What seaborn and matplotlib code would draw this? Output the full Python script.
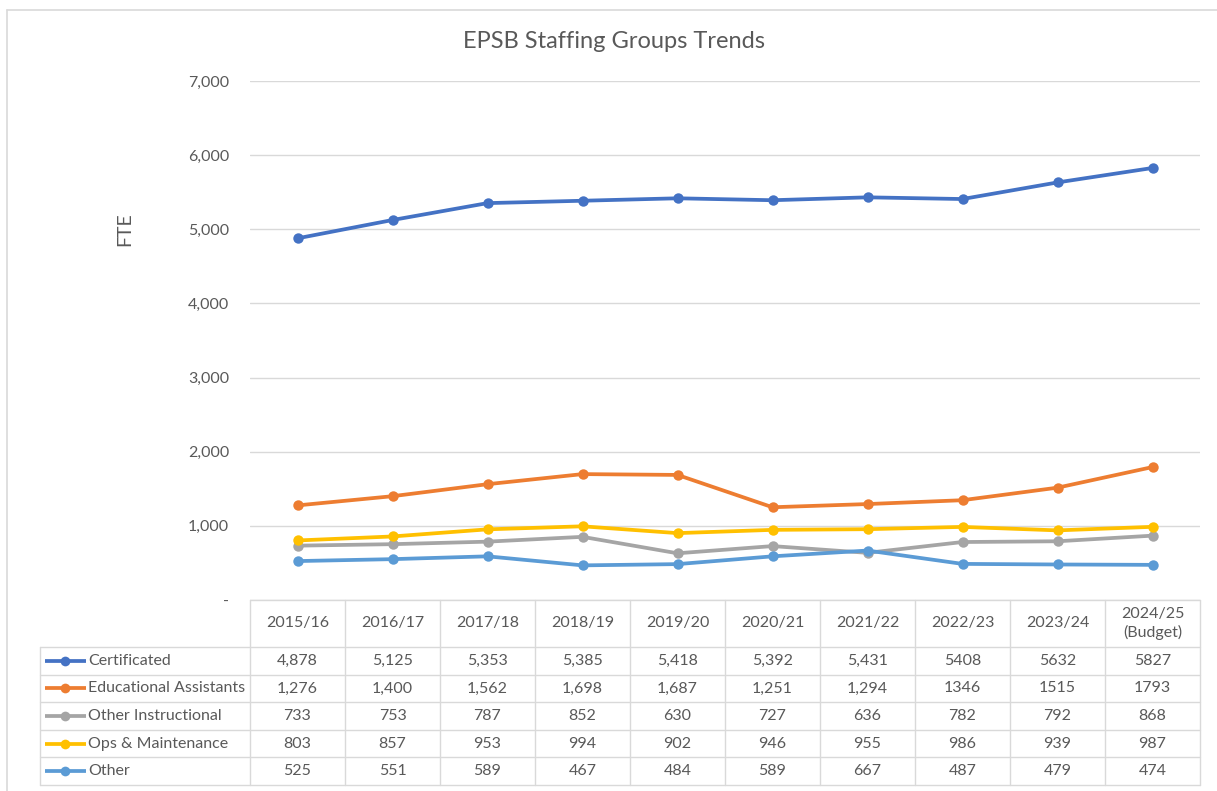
import numpy as np
import pandas as pd
import matplotlib
matplotlib.use("Agg")
import matplotlib.pyplot as plt
from matplotlib.lines import Line2D
import seaborn as sns

sns.set_theme(style="white")
plt.rcParams['font.family'] = ['Lato', 'DejaVu Sans']

years = ["2015/16", "2016/17", "2017/18", "2018/19", "2019/20",
         "2020/21", "2021/22", "2022/23", "2023/24", "2024/25\n(Budget)"]
# the source table shows thousands separators only up to 2021/22
use_comma = [True] * 7 + [False] * 3

groups = ["Certificated", "Educational Assistants", "Other Instructional",
          "Ops & Maintenance", "Other"]
certificated = [4878, 5125, 5353, 5385, 5418, 5392, 5431, 5408, 5632, 5827]
educational_assistants = [1276, 1400, 1562, 1698, 1687, 1251, 1294, 1346, 1515, 1793]
other_instructional = [733, 753, 787, 852, 630, 727, 636, 782, 792, 868]
ops_maintenance = [803, 857, 953, 994, 902, 946, 955, 986, 939, 987]
other = [525, 551, 589, 467, 484, 589, 667, 487, 479, 474]
series = [certificated, educational_assistants, other_instructional,
          ops_maintenance, other]
colors = ["#4472C4", "#ED7D31", "#A5A5A5", "#FFC000", "#5B9BD5"]

rows = []
for g, vals in zip(groups, series):
    for i, v in enumerate(vals):
        rows.append({"idx": i, "year": years[i], "group": g, "FTE": v})
df = pd.DataFrame(rows)

W, H = 1217, 791
fig = plt.figure(figsize=(W / 100, H / 100), dpi=100)
fig.patch.set_facecolor("white")

text_col = "#595959"
grid_col = "#D9D9D9"
fs = 11.5


def frac(x0, y0, x1, y1):
    # pixel box (top-left origin) -> figure fraction rect
    return [x0 / W, 1 - y1 / H, (x1 - x0) / W, (y1 - y0) / H]


# chart area border (top and left edges visible)
fig.add_artist(Line2D([7 / W, 7 / W], [0, 1 - 10 / H], color=grid_col, lw=1.2,
                      transform=fig.transFigure))
fig.add_artist(Line2D([7 / W, 1], [1 - 10 / H, 1 - 10 / H], color=grid_col, lw=1.2,
                      transform=fig.transFigure))

# main plot
ax = fig.add_axes(frac(250, 81, 1200, 600))
sns.lineplot(data=df, x="idx", y="FTE", hue="group", hue_order=groups,
             palette=colors, marker="o", markersize=7.5, markeredgewidth=0,
             linewidth=2.7, legend=False, ax=ax)
ax.set_xlim(-0.5, len(years) - 0.5)
ax.set_ylim(0, 7000)
ax.set_yticks(np.arange(0, 7001, 1000))
ax.set_yticklabels(["-"] + [f"{v:,}" for v in range(1000, 7001, 1000)])
ax.set_xticks([])
ax.set_xlabel("")
ax.set_ylabel("")
ax.tick_params(axis="y", length=0, pad=15, labelsize=fs, labelcolor=text_col)
ax.yaxis.grid(True, color=grid_col, lw=1)
ax.set_axisbelow(True)
for s in ax.spines.values():
    s.set_visible(False)

fig.text(125 / W, 1 - 229 / H, "FTE", rotation=90, ha="center", va="center",
         fontsize=14, color=text_col)
fig.text(614 / W, 1 - 42 / H, "EPSB Staffing Groups Trends", ha="center",
         va="center", fontsize=17, color=text_col)

# data table below the plot
tab = fig.add_axes(frac(250, 600, 1200, 785))
tab.set_xlim(-0.5, len(years) - 0.5)
tab.set_ylim(185, 0)
tab.axis("off")
col_w = 95.0


def px2x(px):
    return -0.5 + (px - 250) / col_w


header_h = 47
row_h = (185 - header_h) / len(groups)
row_edges = [0, header_h] + [header_h + row_h * (k + 1) for k in range(len(groups))]
left_x = px2x(40)
kw = dict(color=grid_col, lw=1, clip_on=False)

# horizontal lines
tab.plot([-0.5, len(years) - 0.5], [0, 0], **kw)
for yv in row_edges[1:]:
    tab.plot([left_x, len(years) - 0.5], [yv, yv], **kw)
# vertical lines
tab.plot([left_x, left_x], [header_h, 185], **kw)
for k in range(len(years) + 1):
    tab.plot([k - 0.5, k - 0.5], [0, 185], **kw)

for i, yr in enumerate(years):
    tab.text(i, header_h / 2, yr, ha="center", va="center", fontsize=fs,
             color=text_col, linespacing=1.25)

for r, (g, vals, c) in enumerate(zip(groups, series, colors)):
    yc = header_h + row_h * (r + 0.5)
    tab.plot([px2x(45), px2x(86)], [yc, yc], color=c, lw=2.7, clip_on=False,
             solid_capstyle="butt")
    tab.plot([px2x(65)], [yc], marker="o", ms=7, mew=0, color=c, clip_on=False)
    tab.text(px2x(88), yc, g, ha="left", va="center", fontsize=fs, color=text_col)
    for i, v in enumerate(vals):
        lab = f"{v:,}" if use_comma[i] else str(v)
        tab.text(i, yc, lab, ha="center", va="center", fontsize=fs, color=text_col)

fig.savefig("out.png", dpi=100, facecolor="white")
